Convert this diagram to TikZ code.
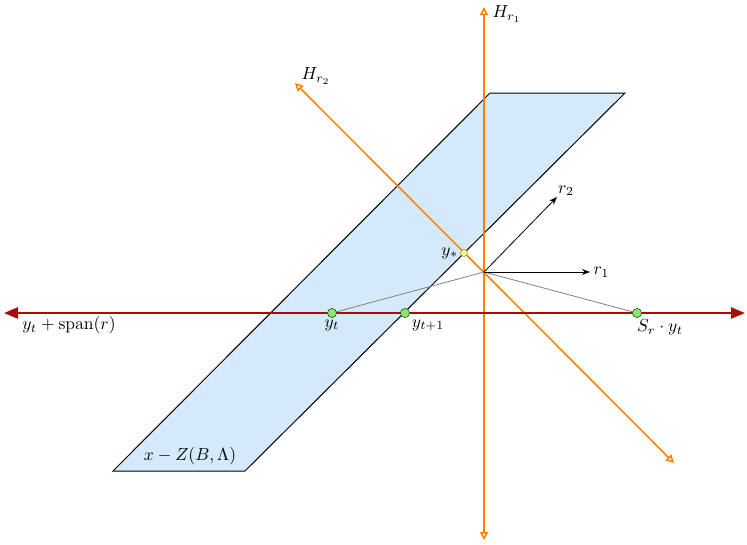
\documentclass[tikz,border=0pt]{standalone}
\usetikzlibrary{arrows.meta}
\definecolor{org}{RGB}{255,128,0}
\definecolor{dred}{RGB}{170,10,10}
\definecolor{pl}{RGB}{212,234,250}
\definecolor{gpt}{RGB}{140,230,110}
\definecolor{ypt}{RGB}{250,250,110}
\newcommand{\bigtxt}[1]{\scalebox{1.75}{#1}}
\begin{document}
\begin{tikzpicture}[x=1pt,y=-1pt,
  hline/.style={org,line width=1.5pt,{Triangle[open,length=8pt,width=8pt]}-{Triangle[open,length=8pt,width=8pt]}},
  pt/.style={circle,draw=black!70!green,fill=gpt,inner sep=0pt,minimum size=9pt},
  vec/.style={black,-{Stealth[length=8pt]}}]
\useasboundingbox (0,0) rectangle (747,544);
\draw[fill=pl,line width=1pt] (490,93) -- (625,93) -- (245,471) -- (113,471) -- cycle;
\coordinate (O) at (484,272);
\node[pt] (yt) at (332,313) {};
\node[pt] (yt1) at (405,313) {};
\node[pt] (sr) at (637,313) {};
\draw[gray,line width=0.8pt] (O) -- (yt.center) (O) -- (sr.center);
\coordinate (vt) at (484,7); \coordinate (vb) at (484,540);
\coordinate (dt) at (295,83); \coordinate (db) at (674,463);
\draw[hline] (vb) -- (vt);
\draw[hline] (db) -- (dt);
\coordinate (rl) at (4,313); \coordinate (rr) at (745,313);
\draw[dred,line width=2.5pt,{Triangle[length=14pt,width=11pt]}-{Triangle[length=14pt,width=11pt]}] (rl) -- (rr);
\node[pt] at (yt) {};\node[pt] at (yt1) {};\node[pt] at (sr) {};
\coordinate (r1) at (590,272); \coordinate (r2) at (557,197);
\draw[vec,line width=0.8pt] (O) -- (r1); \draw[vec,line width=0.8pt] (O) -- (r2);
\node[circle,draw=black!60,fill=ypt,inner sep=0pt,minimum size=7pt] (ys) at (464,253) {};
\node[anchor=east,inner sep=2pt] at (ys.west) {\bigtxt{$y_*$}};
\node[anchor=west] at (r1) {\bigtxt{$r_1$}};
\node[anchor=south west,inner sep=1pt] at (r2) {\bigtxt{$r_2$}};
\node[anchor=west] at (489,14) {\bigtxt{$H_{r_1}$}};
\node[anchor=west] at (298,76) {\bigtxt{$H_{r_2}$}};
\node[anchor=north] at (332,316) {\bigtxt{$y_t$}};
\node[anchor=north] at (428,316) {\bigtxt{$y_{t+1}$}};
\node[anchor=north] at (660,316) {\bigtxt{$S_r\cdot y_t$}};
\node[anchor=north] at (69,313) {\bigtxt{$y_t+\mathrm{span}(r)$}};
\node at (190,456) {\bigtxt{$x-Z(B,\Lambda)$}};
\end{tikzpicture}
\end{document}
